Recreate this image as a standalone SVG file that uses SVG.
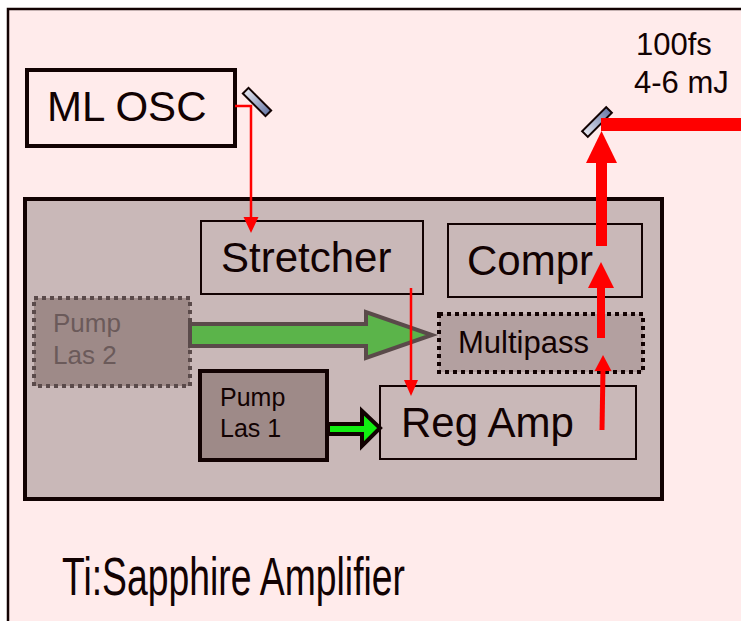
<svg xmlns="http://www.w3.org/2000/svg" width="741" height="621" viewBox="0 0 741 621">
<defs>
<linearGradient id="mir" x1="0" y1="0" x2="1" y2="0">
<stop offset="0" stop-color="#e4e6f0"/>
<stop offset="1" stop-color="#6a7aa8"/>
</linearGradient>
<style>
text{font-family:"Liberation Sans",Arial,sans-serif;fill:#120202}
.box{fill:#c9b8b8;stroke:#120202;stroke-width:2}
.mir{fill:url(#mir);stroke:#120202;stroke-width:2}
.red{stroke:#ff0000;fill:none}
.redh{fill:#ff0000;stroke:none}
.big{font-size:42px}
</style>
</defs>
<rect x="0" y="0" width="741" height="621" fill="#ffffff"/>
<rect x="8" y="9" width="760" height="640" fill="#ffebeb" stroke="#120202" stroke-width="2.5"/>

<g id="main-box">
<rect x="25" y="199" width="637" height="300" fill="#c9b8b8" stroke="#120202" stroke-width="4"/>
</g>

<g id="ml-osc">
<rect x="27" y="70" width="208" height="76" fill="#ffebeb" stroke="#120202" stroke-width="4"/>
<text class="big" x="47" y="121">ML OSC</text>
</g>

<g id="mirror1"><rect class="mir" x="241" y="98" width="32" height="8" transform="rotate(45 257 102)"/></g>
<g id="mirror2"><rect class="mir" x="580" y="118" width="34" height="8" transform="rotate(-45 597 122)"/></g>

<g id="stretcher">
<rect class="box" x="201" y="221" width="222" height="73"/>
<text class="big" x="221" y="272">Stretcher</text>
</g>

<g id="compr">
<rect class="box" x="448" y="224" width="194" height="73"/>
<text class="big" x="467" y="275">Compr</text>
</g>

<g id="multipass">
<rect x="439" y="314" width="204" height="58" fill="#b3a0a0" stroke="#120202" stroke-width="4" stroke-dasharray="4 4"/>
<text x="458" y="353" font-size="31">Multipass</text>
</g>

<g id="reg-amp">
<rect class="box" x="380" y="386" width="256" height="73"/>
<text class="big" x="401" y="437">Reg Amp</text>
</g>

<g id="pump-las-2">
<rect x="34" y="298" width="156" height="88" fill="#9e8a88" stroke="#5a4a4a" stroke-width="4" stroke-dasharray="4 4"/>
<text x="53" y="332" font-size="26" style="fill:#6b5a5a">Pump</text>
<text x="53" y="364" font-size="26" style="fill:#6b5a5a">Las 2</text>
</g>

<g id="pump-las-1">
<rect x="200" y="371" width="127" height="89" fill="#9e8a88" stroke="#120202" stroke-width="4"/>
<text x="220" y="406" font-size="25">Pump</text>
<text x="220" y="437" font-size="25">Las 1</text>
</g>

<g id="output-label">
<text x="636" y="55" font-size="31">100fs</text>
<text x="634" y="93" font-size="31">4-6 mJ</text>
</g>

<g id="title">
<text x="62" y="595" font-size="53" textLength="343" lengthAdjust="spacingAndGlyphs">Ti:Sapphire Amplifier</text>
</g>

<g id="connectors">
<path d="M190,324 L366,324 L366,312 L432,335 L366,358 L366,346 L190,346 Z" fill="#5bb44a" stroke="#5a4a4a" stroke-width="4" stroke-linejoin="miter"/>
<path d="M328,424 L362,424 L362,411 L380,428 L362,446 L362,434 L328,434 Z" fill="#11ee11" stroke="#120202" stroke-width="4"/>
<polyline class="red" points="235,106 251,106 251,218" stroke-width="2.5"/>
<polygon class="redh" points="243.5,217 258.5,217 251,233"/>
<line class="red" x1="411" y1="288" x2="411" y2="382" stroke-width="2.5"/>
<polygon class="redh" points="404,380 418,380 411,396"/>
<line class="red" x1="602" y1="430" x2="603" y2="368" stroke-width="5"/>
<polygon class="redh" points="594.5,371 611.5,371 603,355"/>
<line class="red" x1="601" y1="338" x2="601" y2="284" stroke-width="8"/>
<polygon class="redh" points="588,288 614,288 601,262"/>
<line class="red" x1="601.5" y1="246" x2="601.5" y2="158" stroke-width="11"/>
<polygon class="redh" points="586,163 617,163 601.5,131"/>
<line class="red" x1="601" y1="124.5" x2="741" y2="124.5" stroke-width="13"/>
</g>
</svg>
